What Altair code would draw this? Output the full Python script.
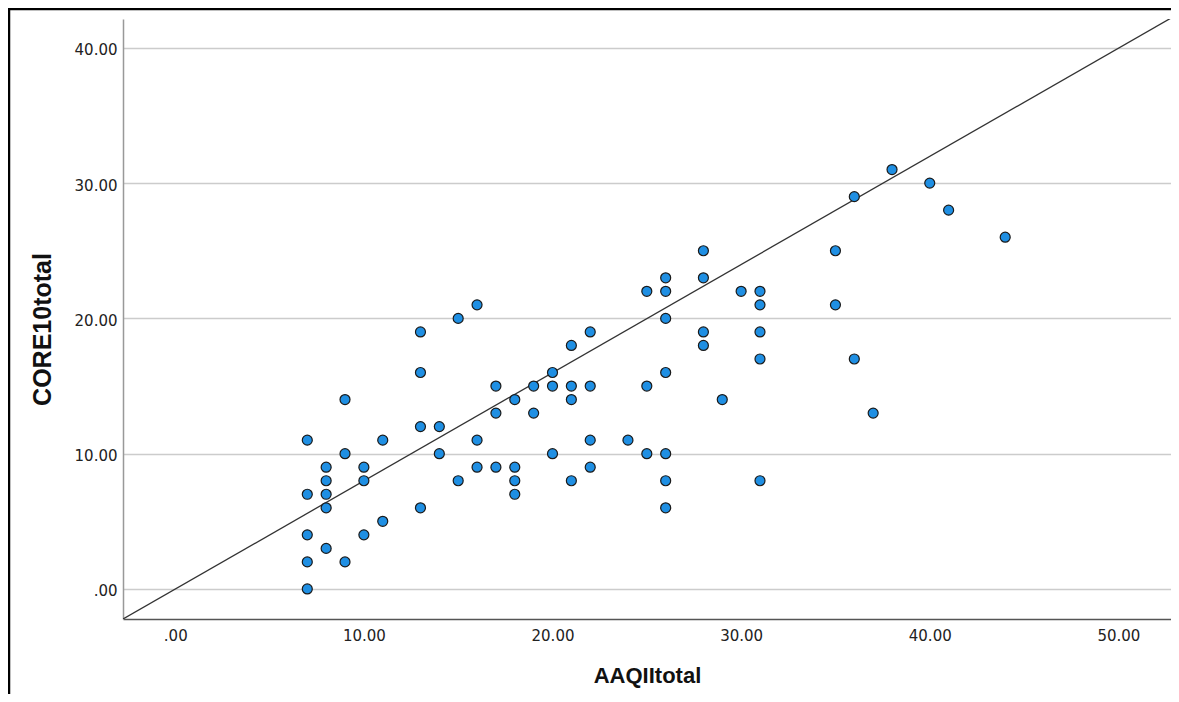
import altair as alt
import pandas as pd

# Scatter data
aaqii = [7, 7, 7, 7, 7,
         8, 8, 8, 8, 8,
         9, 9, 9,
         10, 10, 10,
         11, 11,
         13, 13, 13, 13,
         14, 14,
         15, 15,
         16, 16, 16,
         17, 17, 17,
         18, 18, 18, 18,
         19, 19,
         20, 20, 20,
         21, 21, 21, 21,
         22, 22, 22, 22,
         24,
         25, 25, 25,
         26, 26, 26, 26, 26, 26, 26,
         28, 28, 28, 28,
         29,
         30,
         31, 31, 31, 31, 31,
         35, 35,
         36, 36,
         37,
         38,
         40,
         41,
         44]
core10 = [11, 7, 4, 2, 0,
          9, 8, 7, 6, 3,
          14, 10, 2,
          9, 8, 4,
          11, 5,
          19, 16, 12, 6,
          12, 10,
          20, 8,
          21, 11, 9,
          15, 13, 9,
          14, 9, 8, 7,
          15, 13,
          16, 15, 10,
          18, 15, 14, 8,
          19, 15, 11, 9,
          11,
          22, 15, 10,
          23, 22, 20, 16, 10, 8, 6,
          25, 23, 19, 18,
          14,
          22,
          22, 21, 19, 17, 8,
          25, 21,
          29, 17,
          13,
          31,
          30,
          28,
          26]

# reference line endpoints (corner to corner of the plot area)
line_x = [-2.77, 52.79]
line_y = [-2.22, 42.2]

x_ticks = [0, 10, 20, 30, 40, 50]
y_ticks = [0, 10, 20, 30, 40]

x_domain = [-2.77, 52.79]
y_domain = [-2.22, 42.13]

pts = pd.DataFrame({"AAQIItotal": aaqii, "CORE10total": core10})
ln = pd.DataFrame({"AAQIItotal": line_x, "CORE10total": line_y})

lab_expr = "datum.value == 0 ? '.00' : format(datum.value, '.2f')"

xenc = alt.X(
    "AAQIItotal:Q",
    scale=alt.Scale(domain=x_domain, nice=False, zero=False),
    axis=alt.Axis(
        title="AAQIItotal", values=x_ticks, labelExpr=lab_expr, grid=False,
        ticks=False, domainColor="#555555", domainWidth=1.5,
        labelFont="DejaVu Sans", labelFontSize=15, labelColor="#222222",
        labelPadding=9, titleFont="Liberation Sans", titleFontSize=22,
        titleFontWeight="bold", titleColor="#111111", titleY=56,
        titleBaseline="middle",
    ),
)
yenc = alt.Y(
    "CORE10total:Q",
    scale=alt.Scale(domain=y_domain, nice=False, zero=False),
    axis=alt.Axis(
        title="CORE10total", values=y_ticks, labelExpr=lab_expr, grid=True,
        gridColor="#cccccc", gridWidth=1.5, ticks=False,
        domainColor="#999999", domainWidth=1.5,
        labelFont="DejaVu Sans", labelFontSize=15, labelColor="#222222",
        labelPadding=6, labelOffset=2,
        titleFont="Liberation Sans", titleFontSize=25, titleFontWeight="bold",
        titleColor="#111111", titleAngle=270, titleX=-81, titleY=310,
        titleBaseline="middle", titleAlign="center",
    ),
)

frame = alt.Chart(pd.DataFrame({"a": [0]})).mark_rect(
    fill=None, stroke="#000000", strokeWidth=2.5
).encode(
    x=alt.value(-114), x2=alt.value(1200), y=alt.value(-10), y2=alt.value(800)
)

points = alt.Chart(pts).mark_point(
    shape="circle", filled=True, size=100, fill="#1f8fe3", stroke="#1a1a1a",
    strokeWidth=1.2, opacity=1
).encode(x=xenc, y=yenc)

line = alt.Chart(ln).mark_line(color="#333333", strokeWidth=1.3, clip=True).encode(
    x=alt.X("AAQIItotal:Q"), y=alt.Y("CORE10total:Q")
)

chart = alt.layer(frame, line, points).properties(
    width=1048, height=600,
    autosize=alt.AutoSizeParams(type="none"),
    padding={"left": 115, "top": 11, "right": 0, "bottom": 75},
    background="white",
).configure_view(stroke=None)

chart.save("out.html", embed_options={"renderer": "svg", "actions": False})
